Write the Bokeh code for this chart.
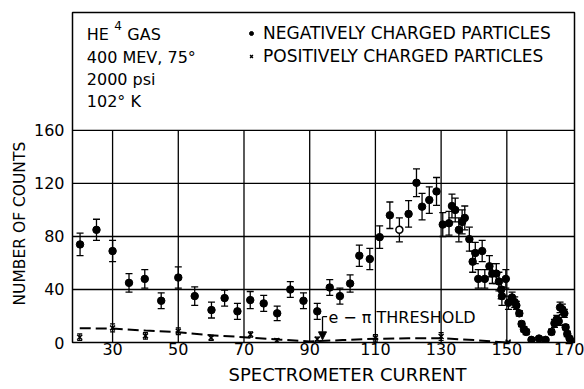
from bokeh.plotting import figure
from bokeh.models import (ColumnDataSource, Whisker, TeeHead, Label, Arrow, NormalHead,
                          FixedTicker, Legend, LegendItem, Range1d, Title)
from bokeh.embed import file_html
from bokeh.resources import INLINE

# ---------------- data ----------------
neg_x = [20.1, 25.1, 30.0, 35.0, 39.8, 44.8, 50.0, 55.0, 60.1, 64.1, 68.0, 71.9, 76.0, 80.1,
         84.1, 88.1, 92.3, 96.1, 99.2, 102.3, 105.1, 108.3, 111.3, 114.4, 120.1, 122.5,
         124.2, 126.4, 128.6, 130.5, 132.4, 133.3, 134.3, 135.4, 136.4, 137.2, 138.6,
         139.6, 140.4, 141.3, 142.5, 143.3, 144.7, 145.6, 146.8, 147.6, 148.3, 148.5,
         149.7, 150.5, 151.6, 152.4, 152.9, 153.8, 154.5, 155.2, 155.9, 157.5, 159.8,
         161.8, 163.6, 164.5, 165.2, 165.8, 166.2, 166.9, 167.5, 167.9, 168.4, 169.1, 170.0]
neg_y = [74, 85, 69, 45, 48, 31.5, 49, 35, 24.5, 33.5, 23.5, 32, 29.5, 22,
         40, 31.5, 23.5, 41.5, 35, 44.5, 65.5, 63, 79.5, 96, 97, 120.5,
         102.5, 107.5, 114, 89, 90, 103, 100, 85, 91, 94, 78,
         61, 67.5, 48, 69, 48, 57.5, 52, 52, 46, 40, 35,
         48, 30, 34, 30.5, 28, 22, 14, 10, 8, 2, 3,
         2, 8, 14.5, 17.5, 16, 26.5, 25, 22, 11.5, 6.5, 3, 0.5]
neg_err = [8.5, 8, 8, 7, 7, 6, 8, 7, 6, 6, 6, 6.5, 6, 5.5,
           6, 6, 6, 6, 6, 6.5, 8, 8, 8.5, 10, 10, 10.5,
           10, 10, 10.5, 9, 9, 9, 9, 9, 9, 9, 9,
           8, 8, 7, 8, 7, 8, 7.5, 7.5, 7, 7, 7,
           7, 5, 4, 4, 3, 2, 2, 2, 2, 1, 1,
           1, 2, 3, 3, 3, 4, 4, 3, 2, 2, 1, 0.5]

open_x = [117.3]
open_y = [85]
open_err = [9]

pos_x = [20.0, 30.0, 40.0, 50.0, 60.0, 72.0, 80.0, 92.3, 110.0, 130.0, 150.4]
pos_y = [4, 11, 5, 8.5, 3.5, 6, 1.5, 2.5, 3.5, 4.5, 0.3]
pos_err = [2.5, 3, 2.5, 2.5, 2, 2, 1.5, 1.5, 2.5, 3, 0.5]

fit_x = [20, 30, 40, 50, 60, 70, 80, 90, 100, 110, 120, 130, 140, 150]
fit_y = [10.8, 10.5, 9, 7.8, 5.5, 4, 2.3, 0.8, 1.8, 2.8, 3.2, 3.2, 1.8, 0]

x_ticks = [30, 50, 70, 90, 110, 130, 150, 170]
y_ticks = [0, 40, 80, 120, 160]

threshold_x = 93.9

FONT = "DejaVu Sans"

# ---------------- figure ----------------
X0, X1 = 17.8, 170.6
p = figure(width=584, height=389, x_range=Range1d(X0, X1), y_range=Range1d(0, 249),
           output_backend="svg", toolbar_location=None,
           min_border_left=72, min_border_right=10, min_border_top=12, min_border_bottom=47)
p.background_fill_color = "white"
p.border_fill_color = "white"
p.outline_line_color = "black"
p.outline_line_width = 1.5
p.outline_line_alpha = 1.0
p.xgrid.visible = False
p.ygrid.visible = False

for ax in (p.xaxis, p.yaxis):
    ax.axis_line_color = None
    ax.major_tick_line_color = None
    ax.minor_tick_line_color = None
    ax.major_tick_out = 0
    ax.major_tick_in = 0
    ax.major_label_text_font = FONT
    ax.major_label_text_font_size = "16px"
    ax.major_label_text_color = "black"
p.xaxis.ticker = FixedTicker(ticks=x_ticks)
p.yaxis.ticker = FixedTicker(ticks=y_ticks)
p.xaxis.major_label_standoff = 0
p.yaxis.major_label_standoff = 8

# grid drawn from the tick arrays (only inside the 0..160 panel)
gx = x_ticks[:-1]
p.segment(x0=gx, y0=[y_ticks[0]] * len(gx), x1=gx, y1=[y_ticks[-1]] * len(gx),
          line_color="black", line_width=1.3)
gy = y_ticks[1:]
p.segment(x0=[X0] * len(gy), y0=gy, x1=[X1] * len(gy), y1=gy,
          line_color="black", line_width=1.3)

# dashed curve
p.line(fit_x, fit_y, line_color="black", line_width=2, line_dash="11 5")

# negative particles
neg_src = ColumnDataSource(dict(x=neg_x, y=neg_y,
                                upper=[y + e for y, e in zip(neg_y, neg_err)],
                                lower=[y - e for y, e in zip(neg_y, neg_err)]))
p.add_layout(Whisker(source=neg_src, base="x", upper="upper", lower="lower",
                     line_color="black", line_width=1.3,
                     upper_head=TeeHead(size=7, line_color="black", line_width=1.3),
                     lower_head=TeeHead(size=7, line_color="black", line_width=1.3)))
neg_r = p.scatter("x", "y", source=neg_src, marker="circle", size=7.5,
                  fill_color="black", line_color="black")

open_src = ColumnDataSource(dict(x=open_x, y=open_y,
                                 upper=[y + e for y, e in zip(open_y, open_err)],
                                 lower=[y - e for y, e in zip(open_y, open_err)]))
p.add_layout(Whisker(source=open_src, base="x", upper="upper", lower="lower",
                     line_color="black", line_width=1.3,
                     upper_head=TeeHead(size=7, line_color="black", line_width=1.3),
                     lower_head=TeeHead(size=7, line_color="black", line_width=1.3)))
p.scatter("x", "y", source=open_src, marker="circle", size=7,
          fill_color="white", line_color="black", line_width=1.5)

# positive particles
pos_src = ColumnDataSource(dict(x=pos_x, y=pos_y,
                                upper=[y + e for y, e in zip(pos_y, pos_err)],
                                lower=[y - e for y, e in zip(pos_y, pos_err)]))
p.add_layout(Whisker(source=pos_src, base="x", upper="upper", lower="lower",
                     line_color="black", line_width=1.2,
                     upper_head=TeeHead(size=5, line_color="black", line_width=1.2),
                     lower_head=TeeHead(size=5, line_color="black", line_width=1.2)))
pos_r = p.scatter("x", "y", source=pos_src, marker="x", size=7,
                  line_color="black", line_width=1.5)

# threshold annotation
p.line([threshold_x, threshold_x + 1.4], [19.5, 19.5], line_color="black", line_width=1.3)
p.add_layout(Arrow(x_start=threshold_x, y_start=19.5, x_end=threshold_x, y_end=2,
                   line_color="black", line_width=1.3,
                   end=NormalHead(size=8, fill_color="black", line_color="black")))
p.add_layout(Label(x=95.7, y=19, text="e \u2212 \u03c0  THRESHOLD", text_font=FONT,
                   text_font_size="16px", text_baseline="middle", text_color="black"))

# info text (top-left)
info = [("HE", 22.15, 232.5, "16px"), ("4", 30.5, 239.0, "12px"), ("GAS", 34.5, 232.5, "16px"),
        ("400 MEV, 75\u00b0", 22.15, 215.1, "16px"),
        ("2000 psi", 22.15, 198.1, "16px"),
        ("102\u00b0 K", 22.15, 181.5, "16px")]
for t, xx, yy, fs in info:
    p.add_layout(Label(x=xx, y=yy, text=t, text_font=FONT, text_font_size=fs,
                       text_baseline="middle", text_color="black"))

# legend
legend = Legend(items=[LegendItem(label="NEGATIVELY CHARGED PARTICLES", renderers=[neg_r]),
                       LegendItem(label="POSITIVELY CHARGED PARTICLES", renderers=[pos_r])],
                location=(174, 276), border_line_color=None, background_fill_alpha=0,
                padding=0, margin=0, spacing=3, glyph_width=10, glyph_height=20,
                label_height=20, label_standoff=7, label_text_font=FONT,
                label_text_font_size="17px", label_text_color="black")
p.add_layout(legend)

# axis titles (as side-panel titles so they can be offset like the original)
p.add_layout(Title(text="SPECTROMETER CURRENT", align="left", offset=156,
                   text_font=FONT, text_font_size="18px", text_font_style="normal",
                   text_color="black", standoff=9, vertical_align="bottom"), "below")
p.add_layout(Title(text="NUMBER OF COUNTS", align="left", offset=37,
                   text_font=FONT, text_font_size="15.5px", text_font_style="normal",
                   text_color="black", standoff=3), "left")

open("out.html", "w").write(file_html(p, INLINE))
